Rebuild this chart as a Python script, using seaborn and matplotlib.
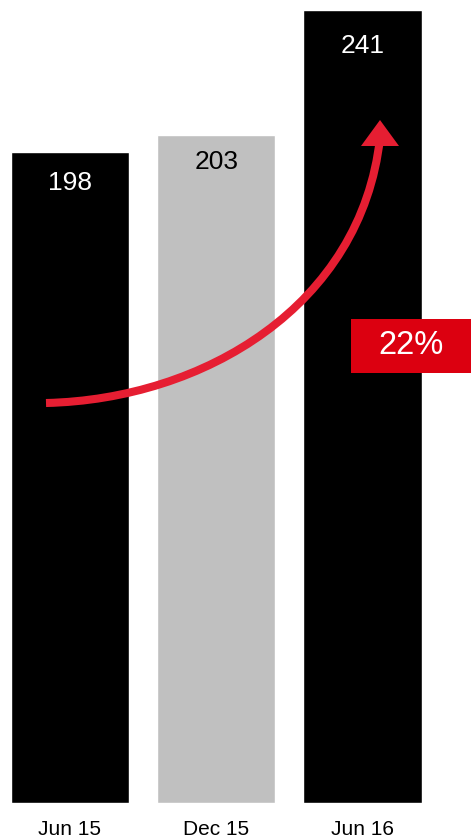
import numpy as np
import pandas as pd
import matplotlib
matplotlib.use("Agg")
import matplotlib.pyplot as plt
from matplotlib.path import Path
from matplotlib.patches import PathPatch, Polygon, Rectangle
import seaborn as sns

# ---- data ----
periods = ["Jun 15", "Dec 15", "Jun 16"]
values = [198, 203, 241]
growth_label = "22%"

# ---- styles ----
bar_colors = ["#000000", "#C0C0C0", "#000000"]
label_colors = ["white", "black", "white"]
label_offsets = [14, 11, 17]  # points below bar top

sns.set_theme(style="white")
plt.rcParams["font.family"] = ["Liberation Sans", "DejaVu Sans"]

W, H = 471, 839
fig = plt.figure(figsize=(W / 100, H / 100), dpi=100)
base_px = 36
ax = fig.add_axes([0, base_px / H, 1, (H - base_px) / H])

df = pd.DataFrame({"period": periods, "value": values})
sns.barplot(data=df, x="period", y="value", hue="period", palette=bar_colors,
            width=0.807, legend=False, ax=ax, saturation=1)

unit = 146.25
ax.set_xlim(-70 / unit, (W - 70) / unit)
ax.set_ylim(0, (H - base_px) / 3.29)
for s in ax.spines.values():
    s.set_visible(False)
ax.set_yticks([])
ax.set_xlabel("")
ax.set_ylabel("")
ax.tick_params(axis="x", length=0, pad=12, labelsize=15, colors="black")

for i, (v, c, off) in enumerate(zip(values, label_colors, label_offsets)):
    ax.annotate(str(v), xy=(i, v), xytext=(0, -off), textcoords="offset points",
                ha="center", va="top", fontsize=19, color=c)

# ---- curved growth arrow: one smooth cubic fitted to guide points ----
def px2data(px, py):
    return ((px - 70) / unit, (H - base_px - py) / 3.29)

arrow_color = "#E61E32"
guide = np.array([(46, 403), (120, 395), (157, 385), (200, 369), (233, 352),
                  (275, 325), (305, 300), (325, 273), (347, 240), (363, 207),
                  (374, 173), (379, 147), (380, 138)], dtype=float)
P0, P3 = guide[0], guide[-1]
d = np.r_[0, np.cumsum(np.hypot(*np.diff(guide, axis=0).T))]
t = d / d[-1]
for _ in range(30):
    b0 = (1 - t) ** 3; b1 = 3 * t * (1 - t) ** 2; b2 = 3 * t ** 2 * (1 - t); b3 = t ** 3
    A = np.c_[b1, b2]
    rhs = guide - np.outer(b0, P0) - np.outer(b3, P3)
    sol, *_ = np.linalg.lstsq(A, rhs, rcond=None)
    P1, P2 = sol
    # reparameterize: nearest t on a dense curve
    tt = np.linspace(0, 1, 2001)
    curve = (np.outer((1 - tt) ** 3, P0) + np.outer(3 * tt * (1 - tt) ** 2, P1)
             + np.outer(3 * tt ** 2 * (1 - tt), P2) + np.outer(tt ** 3, P3))
    idx = np.argmin(((guide[:, None, :] - curve[None, :, :]) ** 2).sum(-1), axis=1)
    t = tt[idx]
    t[0], t[-1] = 0.0, 1.0
ctrl = [px2data(*p) for p in (P0, P1, P2, P3)]
path = Path(ctrl, [Path.MOVETO, Path.CURVE4, Path.CURVE4, Path.CURVE4])
ax.add_patch(PathPatch(path, facecolor="none", edgecolor=arrow_color,
                       lw=5.8, capstyle="butt", zorder=5))
head = [px2data(361, 146), px2data(399, 146), px2data(380, 120)]
ax.add_patch(Polygon(head, closed=True, facecolor=arrow_color, edgecolor="none", zorder=6))

# ---- growth box ----
fig.patches.append(Rectangle((351 / W, (H - 373) / H), (W - 351) / W, 54 / H,
                             transform=fig.transFigure, facecolor="#DC0010",
                             edgecolor="none", zorder=7))
fig.text(411 / W, (H - 346) / H, growth_label, ha="center", va="center",
         fontsize=23.5, color="white", zorder=8)

fig.savefig("out.png", dpi=100)
